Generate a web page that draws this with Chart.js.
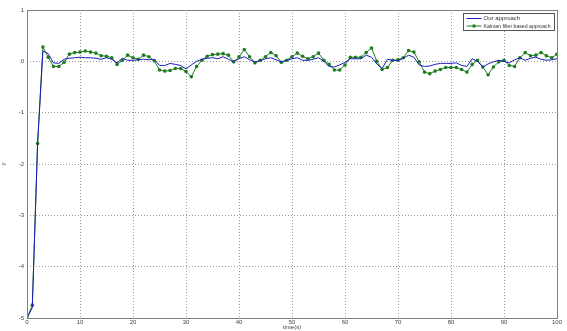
<!DOCTYPE html>
<html><head><meta charset="utf-8">
<script src="https://cdn.jsdelivr.net/npm/chart.js@4/dist/chart.umd.min.js"></script>
<style>html,body{margin:0;padding:0;background:#fff;}#wrap{width:567px;height:331px;position:relative;}</style>
</head><body><div id="wrap"><canvas id="c" width="567" height="331"></canvas></div>
<script>
const timeSteps = Array.from({length:101},(_,i)=>i);
const ourApproach = [-5,-4.8,-1.6,0.2,0.15,-0.03,-0.04,0.04,0.06,0.07,
 0.08,0.07,0.07,0.06,0.04,0.07,0.04,-0.03,0.06,0.02,
 0.02,0.03,0.04,0.03,0.04,-0.08,-0.08,-0.04,-0.06,-0.08,
 -0.15,-0.07,0.0,0.04,0.06,0.07,0.05,0.09,0.04,-0.01,
 0.05,0.09,0.03,-0.01,0.01,0.05,0.07,0.03,-0.01,0.02,
 0.05,0.07,0.02,0.02,0.04,0.07,0.0,-0.1,-0.11,-0.07,
 -0.02,0.05,0.05,0.05,0.12,0.08,-0.05,-0.14,0.04,0.02,
 0.01,0.06,0.12,0.08,-0.07,-0.1,-0.09,-0.06,-0.04,-0.04,
 -0.04,-0.03,-0.08,-0.1,0.05,0.0,-0.11,-0.05,-0.01,0.02,
 0.0,-0.03,0.03,0.07,0.02,0.06,0.08,0.04,0.02,0.03,0.05];
const kalmanApproach = [-5,-4.75,-1.6,0.28,0.08,-0.1,-0.1,-0.02,0.14,0.17,
 0.18,0.2,0.18,0.16,0.11,0.1,0.07,-0.06,0.02,0.12,
 0.07,0.04,0.12,0.09,0.01,-0.17,-0.19,-0.18,-0.14,-0.14,
 -0.2,-0.3,-0.1,0.02,0.1,0.13,0.14,0.15,0.12,-0.01,
 0.09,0.23,0.09,-0.03,0.02,0.09,0.17,0.11,-0.02,0.02,
 0.09,0.16,0.1,0.05,0.09,0.16,0.02,-0.06,-0.17,-0.17,
 -0.07,0.08,0.08,0.08,0.17,0.26,0.0,-0.16,-0.12,0.02,
 0.03,0.07,0.21,0.18,-0.01,-0.21,-0.24,-0.19,-0.16,-0.12,
 -0.12,-0.12,-0.16,-0.21,-0.06,0.02,-0.11,-0.26,-0.11,-0.01,
 0.02,-0.08,-0.1,0.07,0.17,0.11,0.12,0.17,0.11,0.07,0.14];
const seriesLabels = ["Our approach","Kalman filter based approach"];

const toXY = arr => arr.map((v,i)=>({x:timeSteps[i], y:v}));

const framePlugin = {
  id:'frame',
  afterDraw(chart){
    const {ctx, chartArea:a} = chart;
    ctx.save();
    ctx.strokeStyle = '#808080';
    ctx.lineWidth = 1;
    ctx.strokeRect(Math.round(a.left)+0.5, Math.round(a.top)+0.5, Math.round(a.right-a.left), Math.round(a.bottom-a.top));
    // legend
    const lx = 463.5, ly = 13.5, lw = 91, lh = 17;
    ctx.fillStyle = '#fff';
    ctx.fillRect(lx, ly, lw, lh);
    ctx.strokeStyle = '#555';
    ctx.strokeRect(lx, ly, lw, lh);
    ctx.font = '6px "Liberation Sans", Arial, sans-serif';
    ctx.textBaseline = 'middle';
    const ds = chart.data.datasets;
    const rows = [ly+5, ly+12.5];
    ds.forEach((d,i)=>{
      ctx.strokeStyle = d.borderColor;
      ctx.lineWidth = 1;
      ctx.beginPath(); ctx.moveTo(lx+3, rows[i]); ctx.lineTo(lx+18, rows[i]); ctx.stroke();
      if (d.pointRadius>0){
        ctx.fillStyle = d.borderColor;
        ctx.beginPath(); ctx.arc(lx+10.5, rows[i], 1.7, 0, Math.PI*2); ctx.fill();
      }
      ctx.fillStyle = '#333';
      ctx.fillText(d.label, lx+20, rows[i], lw-24);
    });
    ctx.restore();
  }
};

new Chart(document.getElementById('c'), {
  type:'line',
  data:{datasets:[
    {label:seriesLabels[0], data:toXY(ourApproach), borderColor:'#1c1cc0', borderWidth:1, pointRadius:0, tension:0, order:1},
    {label:seriesLabels[1], data:toXY(kalmanApproach), borderColor:'#1e7d1e', backgroundColor:'#1e7d1e', borderWidth:1, pointRadius:1.8, pointBorderWidth:0, tension:0, order:2}
  ]},
  options:{
    responsive:false, animation:false, devicePixelRatio:1,
    layout:{padding:{top:10,right:10,left:0,bottom:0}},
    plugins:{legend:{display:false}, tooltip:{enabled:false}},
    scales:{
      x:{type:'linear', min:0, max:100,
        ticks:{stepSize:10, font:{size:6, family:'"Liberation Sans", Arial, sans-serif'}, color:'#444', padding:1, maxRotation:0},
        grid:{color:'#9a9a9a', lineWidth:1, tickLength:0, drawTicks:false},
        border:{display:false, dash:[1,2]},
        title:{display:true, text:'time(s)', font:{size:6, family:'"Liberation Sans", Arial, sans-serif'}, color:'#444', padding:0},
        afterFit(s){ s.height = 13; }
      },
      y:{min:-5, max:1,
        ticks:{stepSize:1, font:{size:6, family:'"Liberation Sans", Arial, sans-serif'}, color:'#444', padding:3},
        grid:{color:'#9a9a9a', lineWidth:1, tickLength:0, drawTicks:false},
        border:{display:false, dash:[1,2]},
        title:{display:true, text:'y', font:{size:6, family:'"Liberation Sans", Arial, sans-serif'}, color:'#444', padding:0},
        afterFit(s){ s.width = 27; }
      }
    }
  },
  plugins:[framePlugin]
});
</script></body></html>
